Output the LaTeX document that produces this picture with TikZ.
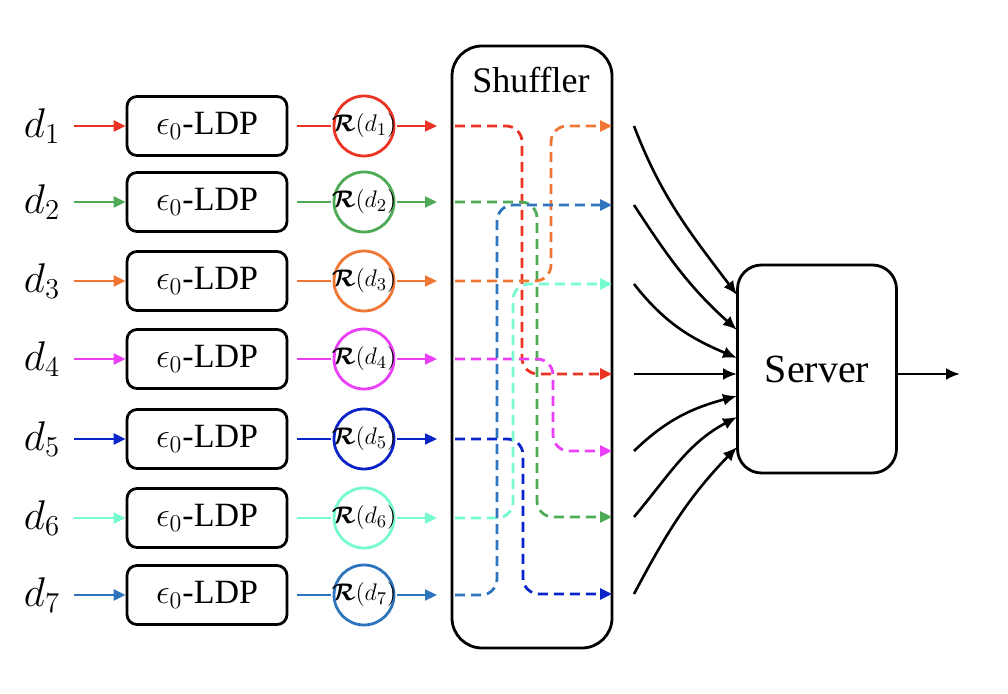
\documentclass[tikz,border=0pt]{standalone}
\usepackage{amsmath}
\usepackage{bm}
\usepackage{fontspec}
\setmainfont{Liberation Serif}
\usetikzlibrary{arrows.meta}
\definecolor{ucol1}{HTML}{EA3323}
\definecolor{ucol2}{HTML}{4EAA55}
\definecolor{ucol3}{HTML}{EF7733}
\definecolor{ucol4}{HTML}{EA3FF7}
\definecolor{ucol5}{HTML}{0B24C7}
\definecolor{ucol6}{HTML}{75FBCF}
\definecolor{ucol7}{HTML}{2F75BD}

\begin{document}
\begin{tikzpicture}[x=0.5pt, y=0.5pt, yscale=-1,
  ldp/.style={draw, line width=1.4pt, rounded corners=5pt, minimum width=80pt, minimum height=29.5pt, font=\fontsize{17}{20}\selectfont},
  ring/.style={draw, line width=1.4pt, circle, minimum size=30pt},
  rlab/.style={inner sep=0pt, font=\fontsize{12.5}{14}\selectfont},
  dlab/.style={font=\fontsize{20}{24}\selectfont},
  feed/.style={line width=1.1pt, -{Triangle[length=6pt, width=5.5pt]}},
  mix/.style={line width=1.4pt, dash pattern=on 5pt off 3pt, rounded corners=8pt, -{Triangle[length=6pt, width=5.5pt]}},
  into/.style={line width=1.3pt, -{Latex[length=7pt, width=6pt]}}]
  \useasboundingbox (0,0) rectangle (1008,694);
  % users and local randomizers
  \foreach \i/\y in {1/126, 2/202, 3/281, 4/359, 5/439, 6/518, 7/595} {
    \node [dlab] (d\i) at (42,\y) {$d_{\i}$};
    \node [ldp] (l\i) at (207,\y) {$\epsilon_0$-LDP};
    \node [ring, draw=ucol\i] (c\i) at (364,\y) {};
    \node [rlab] (r\i) at (364,\y) {$\bm{\mathcal{R}}(d_{\i})$};
    \coordinate (a\i) at (74,\y);
    \coordinate (b\i) at (297,\y);
    \coordinate (s\i) at (437,\y);
    \coordinate (n\i) at (455,\y);
    \draw [feed, ucol\i] (a\i) -- (l\i);
    \draw [line width=1.1pt, ucol\i] (b\i) -- (r\i);
    \draw [feed, ucol\i] (r\i) -- (s\i);
  };
  % shuffler
  \node [draw, line width=1.4pt, rounded corners=15pt, minimum width=80pt, minimum height=301pt] (shuf) at (532,347) {};
  \node [font=\fontsize{18}{22}\selectfont] (shuftitle) at (531,80) {Shuffler};
  \foreach \j/\y in {1/126, 2/205, 3/284, 4/374, 5/451, 6/517, 7/594} {
    \coordinate (o\j) at (612,\y);
    \coordinate (q\j) at (634,\y);
  };
  \foreach \i/\v/\j in {1/522/4, 2/537/6, 3/551/1, 4/553/5, 5/523/7, 6/513/3, 7/497/2} {
    \draw [mix, ucol\i] (n\i) -- (n\i -| \v,0) -- (o\j -| \v,0) -- (o\j);
  };
  % server
  \node [draw, line width=1.4pt, rounded corners=12pt, minimum width=79.5pt, minimum height=104pt, font=\fontsize{20}{24}\selectfont] (server) at (817,369) {Server};
  \coordinate (out) at (960,374);
  \draw [into] (server.east |- out) -- (out);
  \foreach \j/\y/\p/\r in {1/295/69/233, 2/330/57/222, 3/358/52/203, 4/374/0/180, 5/396/-44/165, 6/417/-50/152, 7/447/-62/134} {
    \coordinate (e\j) at (737,\y);
    \draw [into] (q\j) to [out=\p, in=\r] (e\j);
  };
\end{tikzpicture}
\end{document}
